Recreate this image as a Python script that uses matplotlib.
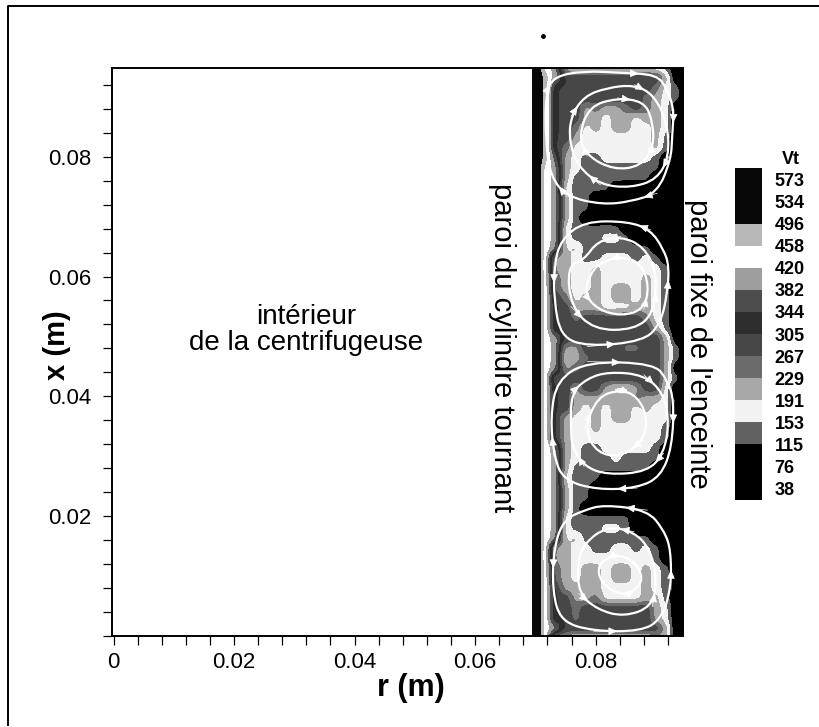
import numpy as np
import matplotlib
matplotlib.use("Agg")
import matplotlib.pyplot as plt
from matplotlib.colors import ListedColormap, BoundaryNorm
from matplotlib.lines import Line2D
from matplotlib.patches import PathPatch, Rectangle
from matplotlib.path import Path
from matplotlib.ticker import MultipleLocator

plt.rcParams['font.family'] = ['Liberation Sans', 'DejaVu Sans']

# colour bar of the original
level_labels = [573, 534, 496, 458, 420, 382, 344, 305, 267, 229, 191, 153, 115, 76, 38]
band_edges = [0, 115, 153, 191, 229, 267, 305, 344, 382, 420, 458, 496, 700]
band_grays = ['0.0', '0.38', '0.95', '0.66', '0.42', '0.28', '0.18', '0.3', '0.62', '1.0', '0.72', '0.03']

# Vt, one letter per grid point (see letter_vt)
letter_vt = {'A': 560, 'B': 477, 'C': 439, 'D': 401, 'E': 363, 'F': 300,
             'G': 248, 'H': 210, 'I': 172, 'J': 134, 'K': 60}
grid_r_mm = [70.0 + 1.66 * i for i in range(16)]
vt_rows = [
    "ACDHIIIIIIIIIJKK",
    "ABDFFFFFFFFFFHKK",
    "ABFFFFFFFFFFGIJK",
    "ABFFFFFFFFFGHIJK",
    "ABFFFHGHHGFGHIKK",
    "ABFFFHHIHHIHHIKK",
    "ABFFGIHIHHIIHIKK",
    "ABFFHIIIIIIIHJKK",
    "ABFGIIIIIIIIHJKK",
    "ABEHIJJIIIIIJKKK",
    "ACDHIJJJJJJJJKKK",
    "ACDHJJJJJJJJKKKK",
    "ACDIJJJJKKKKKKKK",
    "ACDHJJKKKKKKKKKK",
    "ACDHJJKKKKKKKKKK",
    "ACDHJKKKKKKKKKKK",
    "ACDIJJJJJKKKKKKK",
    "ACDIJJJIIJKKKKKK",
    "ACDIHJJJJJJJKKKK",
    "ACHHIJJIIIJIJKKK",
    "ACHHIIHIIIIIIJKK",
    "ACGHIIHIIIIHIJKK",
    "ACGHIIHIHHIHIJKK",
    "ACFGIHHIHHIHIJKK",
    "ACFFHHHIIIHHIJKK",
    "ACFFGFFFFFFGIJKK",
    "ACFFFGFFGFFFHJKK",
    "ACDFFFFFFFFFFHKK",
    "ACDHHFFFFGGFFHJK",
    "ACDIHGFFFFFFFHJK",
    "ACDHGFFFFFFFFHKK",
    "ACGFFFFFFFFFFHJK",
    "ACFFHFFHIIHFFIKK",
    "ACFFHHHHHHGHHIKK",
    "ACFFHIHIHHIHIIKK",
    "ACFHIIHIHHIIIIKK",
    "ACFHIIHIIIIIIJKK",
    "ACFHIIIIIIIIIJKK",
    "ACDHIJJIIIIIJKKK",
    "ACDHIJJJIJJJJKKK",
    "ACDHJJJJJJJJKKKK",
    "ACDIJJJKKKKKKKKK",
    "ACDHJJKKKKKKKKKK",
    "ACDHJJKKKKKKKKKK",
    "ACDHJKKKKKKKKKKK",
    "ACDIJJJJJJKKKKKK",
    "ACDIJJJIIJKKKKKK",
    "ACDIHJJJJJJJKKKK",
    "ACHHIIJJIIJIJKKK",
    "ACHHIIIIIIIIJKKK",
    "ACGHIHHIHHIHIJKK",
    "ACGHIHHIHHIHIJKK",
    "ACFHHHHIIIIHIJKK",
    "ACFFHHGIIIIHHJKK",
    "ACFFGFFFFFFFHIKK",
    "ACFFGFFFFGFFHIKK",
    "ACDFFFFFFFFFFHKK",
    "ACHHIIIIIIIIHHKK",
]

# streamlines in mm, four cells with three loops each
c1a_r = [78.1, 84.2, 90.2, 91.9, 93.0, 92.7, 92.5, 90.2, 85.8, 81.1, 75.3, 72.5, 71.7, 71.7, 73.1]
c1a_x = [94.3, 94.0, 93.7, 91.2, 87.9, 83.4, 79.5, 73.9, 72.5, 72.0, 73.3, 76.7, 82.8, 90.6, 93.4]
c1b_r = [75.6, 75.9, 78.1, 81.9, 86.4, 89.7, 91.9, 92.2, 90.2, 85.8, 80.8, 77.0]
c1b_x = [82.8, 86.7, 90.1, 91.5, 92.0, 90.3, 85.6, 80.1, 76.2, 74.8, 75.3, 78.4]
c1c_r = [78.9, 83.6, 88.0, 89.4, 89.7, 87.5, 83.0, 78.6, 77.2]
c1c_x = [88.4, 89.8, 89.2, 86.2, 81.7, 78.4, 77.8, 80.1, 83.4]

c2a_r = [78.1, 85.3, 89.1, 91.3, 92.2, 91.9, 90.8, 88.0, 78.6, 74.2, 73.1, 73.1, 74.2]
c2a_x = [69.2, 69.2, 67.8, 64.5, 61.7, 57.2, 52.2, 49.2, 48.3, 50.0, 56.1, 61.7, 66.1]
c2b_r = [78.1, 80.3, 84.2, 88.0, 90.2, 89.7, 86.4, 79.7, 75.9, 75.3]
c2b_x = [62.8, 65.9, 66.7, 65.0, 60.6, 53.9, 51.1, 51.1, 55.0, 61.7]
c2c_r = [80.8, 84.2, 87.5, 88.9, 88.0, 84.2, 80.3, 78.1, 79.2]
c2c_x = [62.3, 63.4, 62.3, 58.4, 54.5, 53.4, 54.5, 57.2, 60.6]

c3a_r = [73.6, 78.6, 89.7, 91.9, 93.0, 92.7, 90.8, 86.9, 80.3, 74.7, 73.1, 72.5]
c3a_x = [42.7, 45.8, 45.5, 42.7, 39.4, 31.6, 26.6, 24.7, 24.4, 26.0, 29.9, 36.6]
c3b_r = [75.9, 75.9, 78.6, 82.2, 88.0, 91.3, 92.2, 91.3, 88.6, 81.9, 78.1, 76.1]
c3b_x = [34.4, 40.5, 43.0, 44.1, 43.6, 40.5, 35.5, 30.5, 27.4, 26.9, 28.3, 31.6]
c3c_r = [80.3, 84.2, 86.9, 88.6, 88.0, 84.2, 80.3, 78.1]
c3c_x = [40.0, 41.1, 40.0, 36.6, 32.7, 29.9, 30.5, 34.4]

c4a_r = [78.1, 81.4, 88.6, 91.3, 92.5, 92.5, 90.8, 87.5, 79.7, 74.2, 72.8, 73.1, 74.7]
c4a_x = [21.0, 21.9, 21.0, 17.7, 14.4, 7.7, 2.7, 0.8, 0.8, 2.4, 7.7, 14.9, 19.4]
c4b_r = [78.1, 81.9, 86.4, 89.1, 90.2, 89.4, 84.7, 80.3, 77.2, 77.0]
c4b_x = [15.5, 18.3, 17.4, 14.4, 9.4, 4.9, 3.2, 4.4, 7.1, 12.1]
c4c_r = [80.3, 83.6, 86.9, 88.0, 84.7, 80.8]
c4c_x = [12.1, 13.8, 12.1, 8.8, 6.5, 8.8]

clockwise_loops = [(c1a_r, c1a_x), (c1b_r, c1b_x), (c1c_r, c1c_x),
                   (c3a_r, c3a_x), (c3b_r, c3b_x), (c3c_r, c3c_x)]
counter_loops = [(c2a_r, c2a_x), (c2b_r, c2b_x), (c2c_r, c2c_x),
                 (c4a_r, c4a_x), (c4b_r, c4b_x), (c4c_r, c4c_x)]


def draw_loop(ax, r_mm, x_mm):
    pts = np.column_stack([r_mm, x_mm]) / 1000.0
    mids = (pts + np.roll(pts, -1, axis=0)) / 2.0
    verts = [mids[-1]]
    codes = [Path.MOVETO]
    for p, m in zip(pts, mids):
        verts += [p, m]
        codes += [Path.CURVE3, Path.CURVE3]
    ax.add_patch(PathPatch(Path(verts, codes), fill=False, edgecolor='white', lw=1.6, zorder=3))
    for i in range(1, len(pts), 3):
        ax.annotate('', xy=mids[i], xytext=pts[i], zorder=4,
                    arrowprops=dict(arrowstyle='-|>,head_length=0.5,head_width=0.22', color='white',
                                    lw=0.5, mutation_scale=11, shrinkA=0, shrinkB=0))


W, H = 820, 727
fig = plt.figure(figsize=(W / 100, H / 100), dpi=100, facecolor='white')
ax = fig.add_axes([112 / W, 1 - 636 / H, (683 - 112) / W, (636 - 68) / H])

cmap = ListedColormap(band_grays)
norm = BoundaryNorm(band_edges, cmap.N)

vt_field = np.array([[letter_vt[c] for c in row] for row in vt_rows], dtype=float)
dr = 1.66e-3
dx = 1.67e-3
r0 = grid_r_mm[0] / 1000.0
x_top = 94.8e-3
extent = [r0 - dr / 2, grid_r_mm[-1] / 1000.0 + dr / 2,
          x_top - dx * (len(vt_rows) - 0.5), x_top + dx / 2]
im = ax.imshow(vt_field, extent=extent, origin='upper', cmap=cmap, norm=norm, aspect='auto',
               interpolation='gaussian', interpolation_stage='data', zorder=1)

ax.set_xlim(-0.00025, 0.0945)
ax.set_ylim(0.0, 0.0948)
im.set_clip_path(Rectangle((0.0694, 0.0), 0.0945 - 0.0694, 0.0948, transform=ax.transData))

for r_mm, x_mm in clockwise_loops:
    draw_loop(ax, r_mm, x_mm)
for r_mm, x_mm in counter_loops:
    draw_loop(ax, r_mm[::-1], x_mm[::-1])

ax.set_xticks([0, 0.02, 0.04, 0.06, 0.08])
ax.set_xticklabels(['0', '0.02', '0.04', '0.06', '0.08'])
ax.set_yticks([0.02, 0.04, 0.06, 0.08])
ax.set_yticklabels(['0.02', '0.04', '0.06', '0.08'])
ax.xaxis.set_minor_locator(MultipleLocator(0.004))
ax.yaxis.set_minor_locator(MultipleLocator(0.004))
ax.tick_params(which='both', direction='out', length=6.5, width=0.9, labelsize=16)
ax.tick_params(axis='x', pad=5)
ax.tick_params(axis='y', pad=8.5)
ax.set_zorder(2)
for s in ['top', 'left', 'bottom']:
    ax.spines[s].set_linewidth(1.4)
ax.spines['right'].set_visible(False)

fig.text(57 / W, 1 - 345 / H, 'x (m)', rotation=90, fontsize=21, fontweight='bold', ha='center', va='center')
fig.text(411 / W, 1 - 688 / H, 'r (m)', fontsize=22, fontweight='bold', ha='center', va='center')
fig.text(306 / W, 1 - 330 / H, 'intérieur\nde la centrifugeuse', fontsize=20, ha='center', va='center', linespacing=1.0)
fig.text(502 / W, 1 - 348 / H, 'paroi du cylindre tournant', rotation=270, fontsize=21, ha='center', va='center')
fig.text(698 / W, 1 - 344 / H, "paroi fixe de l'enceinte", rotation=270, fontsize=21, ha='center', va='center')

# colour bar
cax = fig.add_axes([735 / W, 1 - 500 / H, 27 / W, 332 / H])
bar_edges = [19] + level_labels[::-1] + [592]
bar_mid = [(a + b) / 2.0 for a, b in zip(bar_edges[:-1], bar_edges[1:])]
cax.pcolormesh([0, 1], bar_edges, np.array(bar_mid).reshape(-1, 1), cmap=cmap, norm=norm)
cax.set_ylim(19, 592)
cax.set_xticks([])
cax.yaxis.tick_right()
cax.set_yticks(level_labels)
cax.set_yticklabels([str(v) for v in level_labels], fontweight='bold', fontsize=13)
cax.tick_params(axis='y', length=0, pad=9)
for s in cax.spines.values():
    s.set_visible(False)
fig.text(791 / W, 1 - 160 / H, 'Vt', fontsize=13, fontweight='bold', ha='center', va='center')

# page frame and the stray dot of the scan
fig.add_artist(Line2D([8 / W, 8 / W, 1], [0.003, 1 - 6 / H, 1 - 6 / H], color='black', lw=1.4))
fig.add_artist(Line2D([543 / W], [1 - 36 / H], marker='o', ms=2.5, color='black'))

fig.savefig('out.png', dpi=100)
